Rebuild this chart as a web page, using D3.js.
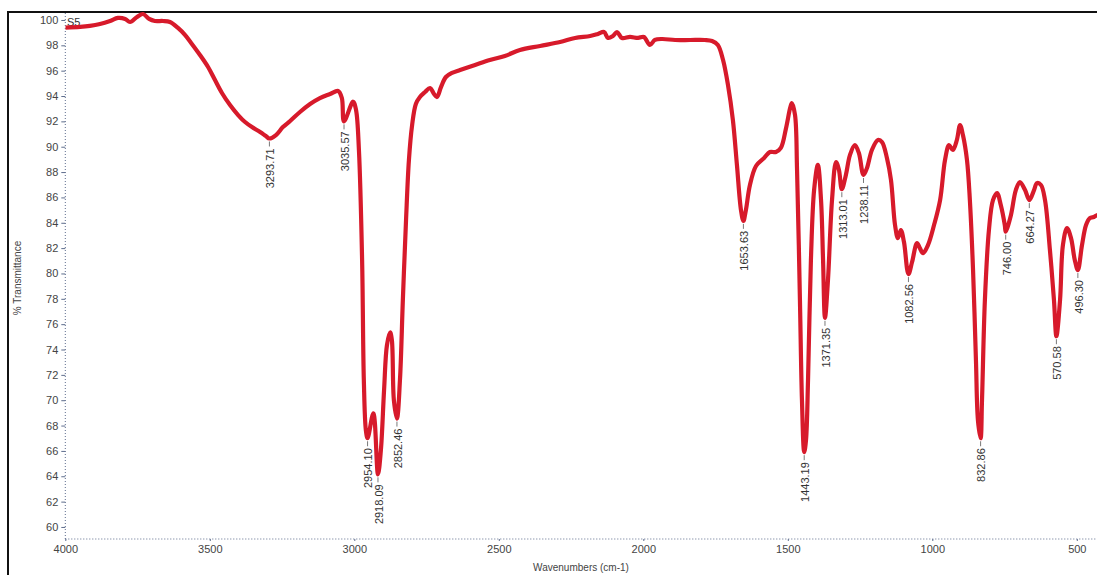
<!DOCTYPE html>
<html>
<head>
<meta charset="utf-8">
<script src="https://cdn.jsdelivr.net/npm/d3@7"></script>
<style>
  body { margin: 0; background: #fff; }
  svg { display: block; font-family: 'Liberation Sans Narrow', 'Liberation Sans', Arial, sans-serif; }
</style>
</head>
<body>
<div id="chart"></div>
<script>
// spectrum S5
var wavenumbers = [4000, 3949, 3915, 3880, 3845, 3818, 3793, 3776, 3752, 3731, 3710, 3690, 3662, 3638, 3610, 3586, 3562, 3534, 3506, 3482,
  3458, 3430, 3402, 3378, 3354, 3326, 3306, 3293.71, 3271, 3247, 3222, 3188, 3153, 3119, 3084, 3056, 3043, 3035.57, 3004, 2994,
  2984, 2973, 2967, 2960, 2954.1, 2934, 2918.09, 2908, 2897, 2887, 2876, 2870, 2863, 2852.46, 2842, 2832, 2821, 2811, 2800, 2787,
  2773, 2755, 2738, 2724, 2714, 2700, 2683, 2662, 2634, 2582, 2531, 2479, 2427, 2357, 2288, 2236, 2184, 2157, 2136, 2122,
  2105, 2091, 2074, 2046, 2018, 1998, 1977, 1960, 1935, 1890, 1838, 1787, 1762, 1742, 1724, 1707, 1690, 1676, 1662, 1653.63,
  1645, 1631, 1610, 1582, 1562, 1541, 1524, 1506, 1492, 1486, 1475, 1468, 1458, 1451, 1443.19, 1437, 1430, 1420, 1409, 1396,
  1385, 1378, 1371.35, 1361, 1347, 1333, 1323, 1313.01, 1299, 1285, 1268, 1254, 1238.11, 1226, 1209, 1188, 1174, 1157, 1143,
  1129, 1119, 1109, 1098, 1082.56, 1070, 1053, 1043, 1032, 1015, 994, 973, 956, 942, 929, 915, 904, 894, 880, 870,
  859, 849, 842, 832.86, 828, 818, 804, 790, 776, 763, 749, 746, 728, 711, 697, 679, 664.27, 648, 638, 624,
  610, 593, 579, 570.58, 558, 548, 534, 520, 507, 496.3, 482, 468, 455, 441, 430, 400]
var transmittance = [99.4, 99.45, 99.53, 99.68, 99.92, 100.16, 100.08, 99.84, 100.24, 100.47, 100.08, 99.92, 99.92, 99.84, 99.37, 98.82, 98.11, 97.24, 96.29, 95.26,
  94.24, 93.29, 92.5, 91.95, 91.55, 91.16, 90.84, 90.65, 90.92, 91.55, 92.03, 92.74, 93.37, 93.84, 94.16, 94.4, 93.84, 92.0, 93.55, 92.9,
  89.74, 81.06, 71.59, 67.64, 67.0, 68.96, 64.15, 66.06, 70.8, 74.35, 75.35, 74.74, 70.0, 68.55, 71.6, 77.9, 84.2, 88.95, 91.7, 93.37,
  93.92, 94.32, 94.63, 94.16, 93.92, 94.71, 95.5, 95.82, 96.05, 96.45, 96.84, 97.16, 97.63, 97.95, 98.26, 98.58, 98.74, 98.9, 99.05, 98.58,
  98.74, 99.05, 98.58, 98.66, 98.58, 98.66, 98.03, 98.42, 98.5, 98.42, 98.42, 98.42, 98.34, 98.03, 96.84, 94.87, 92.11, 88.56, 85.0, 84.15,
  85.0, 86.98, 88.48, 89.11, 89.58, 89.58, 89.9, 91.48, 93.05, 93.45, 92.5, 88.16, 77.9, 70.0, 65.9, 66.85, 71.6, 81.06, 86.58, 88.56,
  85.79, 81.06, 76.5, 79.48, 85.79, 88.79, 88.16, 86.65, 87.77, 89.34, 90.13, 89.5, 87.77, 88.32, 89.74, 90.53, 90.37, 89.11, 87.37,
  83.82, 82.79, 83.43, 82.48, 79.95, 80.9, 82.4, 82.0, 81.6, 82.24, 83.82, 85.79, 88.95, 90.13, 89.74, 90.53, 91.71, 90.92, 88.95, 85.79,
  80.27, 73.17, 68.4, 67.0, 70.0, 77.9, 83.43, 85.79, 86.35, 85.4, 83.8, 83.3, 84.6, 86.58, 87.21, 86.58, 85.79, 86.58, 87.13, 86.98,
  85.79, 81.85, 77.9, 75.05, 77.9, 82.24, 83.58, 82.79, 81.06, 80.27, 82.24, 83.82, 84.37, 84.45, 84.6, 84.6]

// labelled minima
var peakLabels = ['3293.71', '3035.57', '2954.10', '2918.09', '2852.46', '1653.63', '1443.19', '1371.35', '1313.01',
  '1238.11', '1082.56', '832.86', '746.00', '664.27', '570.58', '496.30']

var xTicks = [4000, 3500, 3000, 2500, 2000, 1500, 1000, 500]
var yTicks = d3.range(60, 101, 2)

var width = 1097
var height = 575
var plot = { left: 65.3, right: 1105.7, top: 13, bottom: 539 }
var lineColor = '#d71a2b'
var axisColor = '#5d6c8c'

var svg = d3
  .select('#chart')
  .append('svg')
  .attr('width', width)
  .attr('height', height)

var x = d3.scaleLinear().domain([4000, 400]).range([plot.left, plot.right])
var y = d3.scaleLinear().domain([59.05, 100.55]).range([plot.bottom, plot.top])

// outer frame of the printout
svg
  .append('path')
  .attr('d', 'M8,' + (height + 5) + 'V12H' + (width + 5))
  .attr('fill', 'none')
  .attr('stroke', '#111')
  .attr('stroke-width', 2)

// y axis
var yAxis = svg
  .append('g')
  .attr('transform', 'translate(' + plot.left + ',0)')
  .call(d3.axisLeft(y).tickValues(yTicks).tickSize(4).tickPadding(3))
yAxis.select('.domain').remove()
yAxis
  .append('line')
  .attr('y1', y(100.55))
  .attr('y2', plot.bottom)
  .attr('stroke', axisColor)
  .attr('stroke-width', 1)
  .attr('stroke-dasharray', '1,2')
yAxis.selectAll('.tick line').attr('stroke', axisColor)
yAxis
  .selectAll('.tick text')
  .attr('fill', '#444')
  .style('font-size', '11px')

// x axis
var xAxis = svg
  .append('g')
  .attr('transform', 'translate(0,' + plot.bottom + ')')
  .call(d3.axisBottom(x).tickValues(xTicks).tickSize(2).tickPadding(4).tickFormat(d3.format('d')))
xAxis.select('.domain').remove()
xAxis
  .append('line')
  .attr('x1', plot.left)
  .attr('x2', width)
  .attr('stroke', axisColor)
  .attr('stroke-width', 1)
  .attr('stroke-dasharray', '1,2')
xAxis.selectAll('.tick line').attr('stroke', axisColor)
xAxis
  .selectAll('.tick text')
  .attr('fill', '#444')
  .style('font-size', '11px')

// axis titles
svg
  .append('text')
  .attr('x', 581)
  .attr('y', 571)
  .attr('text-anchor', 'middle')
  .attr('fill', '#444')
  .style('font-size', '10px')
  .text('Wavenumbers (cm-1)')

svg
  .append('text')
  .attr('transform', 'translate(21,' + 278 + ') rotate(-90)')
  .attr('text-anchor', 'middle')
  .attr('fill', '#444')
  .style('font-size', '10px')
  .text('% Transmittance')

svg
  .append('text')
  .attr('x', 67)
  .attr('y', 26)
  .attr('fill', '#333')
  .style('font-size', '11px')
  .text('S5')

// spectrum
var points = wavenumbers.map((w, i) => [w, transmittance[i]])

svg
  .append('clipPath')
  .attr('id', 'plot-clip')
  .append('rect')
  .attr('x', plot.left)
  .attr('y', 0)
  .attr('width', plot.right - plot.left)
  .attr('height', plot.bottom)

svg
  .append('path')
  .datum(points)
  .attr('clip-path', 'url(#plot-clip)')
  .attr('d', d3.line().x(d => x(d[0])).y(d => y(d[1])).curve(d3.curveCatmullRom.alpha(0.5)))
  .attr('fill', 'none')
  .attr('stroke', lineColor)
  .attr('stroke-width', 4.2)
  .attr('stroke-linejoin', 'round')

// peak labels hanging under each minimum
var peaks = peakLabels.map(label => {
  var w = +label
  var i = wavenumbers.indexOf(w)
  return { label: label, w: w, t: transmittance[i] }
})

var peakGroup = svg
  .selectAll('.peak')
  .data(peaks)
  .enter()
  .append('g')
  .attr('class', 'peak')
  .attr('transform', d => 'translate(' + x(d.w) + ',' + y(d.t) + ')')

peakGroup
  .append('line')
  .attr('y1', 3)
  .attr('y2', 8)
  .attr('stroke', '#555')
  .attr('stroke-width', 0.8)

peakGroup
  .append('text')
  .attr('transform', 'translate(1,10) rotate(-90)')
  .attr('text-anchor', 'end')
  .attr('dy', '0.35em')
  .attr('fill', '#333')
  .style('font-size', '11px')
  .text(d => d.label)
</script>
</body>
</html>
